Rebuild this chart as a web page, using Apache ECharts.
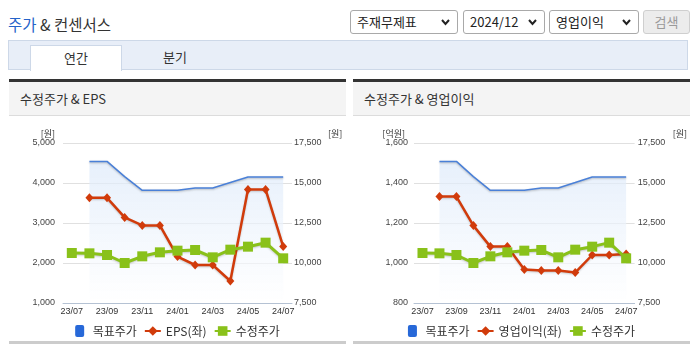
<!DOCTYPE html>
<html><head><meta charset="utf-8">
<script src="https://cdn.jsdelivr.net/npm/echarts@6/dist/echarts.min.js"></script>
<style>
body{margin:0;width:695px;height:349px;background:#fff;font-family:"Noto Sans CJK KR","Noto Sans",sans-serif;position:relative;overflow:hidden;color:#333}
.abs{position:absolute}
.sel{position:absolute;top:10px;height:22px;border:1px solid #a9a9a9;border-radius:3px;background:#fff;font-size:13px;line-height:22px;padding-left:6px;box-sizing:content-box;color:#222}
.sel svg{position:absolute;right:7px;top:8px}
.btn{position:absolute;top:10px;left:643px;width:45px;height:22px;border:1px solid #cfcfcf;border-radius:3px;background:#ececec;color:#9a9a9a;font-size:13px;line-height:22px;text-align:center}
.tabbar{position:absolute;left:8px;top:40px;width:678px;height:28px;background:#e8eef8;border:1px solid #cdd8e8}
.tab{position:absolute;top:45px;height:25px;font-size:13px;line-height:24px;text-align:center}
.panel{position:absolute;top:79px;width:337px;border-top:3px solid #333}
.phead{height:33px;background:#f4f4f4;border-bottom:1px solid #dcdcdc;font-size:13px;line-height:33px;padding-left:11px;color:#333}
.pbottom{position:absolute;top:341px;width:337px;height:3px;background:#cccccc}
.chart{position:absolute;top:118px;width:337px;height:222px}
</style></head><body>
<div class="abs" style="left:8px;top:13px;font-size:15.5px;line-height:22px;color:#333"><span style="color:#2563c9">주가</span> &amp; 컨센서스</div>
<div class="sel" style="left:350px;width:100px">주재무제표<svg width="9" height="7" viewBox="0 0 9 7"><path d="M1,1 L4.5,5 L8,1" stroke="#222" stroke-width="2" fill="none"/></svg></div>
<div class="sel" style="left:463px;width:74px">2024/12<svg width="9" height="7" viewBox="0 0 9 7"><path d="M1,1 L4.5,5 L8,1" stroke="#222" stroke-width="2" fill="none"/></svg></div>
<div class="sel" style="left:549px;width:82px">영업이익<svg width="9" height="7" viewBox="0 0 9 7"><path d="M1,1 L4.5,5 L8,1" stroke="#222" stroke-width="2" fill="none"/></svg></div>
<div class="btn">검색</div>
<div class="tabbar"></div>
<div class="tab" style="left:30px;width:90px;background:#fff;border:1px solid #cdd8e8;border-bottom:none">연간</div>
<div class="tab" style="left:145px;width:60px">분기</div>

<div class="panel" style="left:9px"><div class="phead">수정주가 &amp; EPS</div></div>
<div class="panel" style="left:353px"><div class="phead">수정주가 &amp; 영업이익</div></div>
<div class="pbottom" style="left:9px"></div>
<div class="pbottom" style="left:353px"></div>
<div id="c1" class="chart" style="left:9px"></div>
<div id="c2" class="chart" style="left:353px"></div>
<script>
const categories = ['23/07','23/08','23/09','23/10','23/11','23/12','24/01','24/02','24/03','24/04','24/05','24/06','24/07'];
const targetPrice = [null,16350,16350,15400,14540,14540,14540,14690,14690,15030,15375,15375,15375];
const eps = [null,3630,3630,3140,2940,2940,2160,1950,1950,1550,3840,3840,2410];
const opProfit = [null,1332,1332,1187,1082,1082,968,963,963,952,1040,1040,1045];
const adjPrice = [10625,10604,10500,10000,10417,10667,10771,10812,10354,10833,11021,11271,10292];
const leftTicks1 = [1000,2000,3000,4000,5000];
const leftTicks2 = [800,1000,1200,1400,1600];
const rightTicks = [7500,10000,12500,15000,17500];

const FONT = '"Liberation Sans", Arial, sans-serif';
const KFONT = '"Noto Sans CJK KR", sans-serif';
const fmt = v => v.toLocaleString('en-US');

function build(el, opt) {
  const chart = echarts.init(document.getElementById(el));
  const lt = opt.leftTicks;
  chart.setOption({
    animation: false,
    grid: {left: opt.gl, width: opt.gw, top: 25, height: 160},
    legend: {
      left: 'center', top: 202, itemWidth: 16, itemHeight: 12, itemGap: 7,
      textStyle: {fontSize: 12, color: '#333', fontFamily: KFONT},
      data: [{name: '목표주가', icon: 'path://M2,0H7A2,2,0,0,1,9,2V10A2,2,0,0,1,7,12H2A2,2,0,0,1,0,10V2A2,2,0,0,1,2,0Z'}, opt.name, '수정주가']
    },
    xAxis: {
      type: 'category', data: categories, boundaryGap: true,
      axisLine: {lineStyle: {color: '#b5c2d3'}},
      axisTick: {lineStyle: {color: '#b5c2d3'}, length: 4, interval: i => i === 0 || i % 2 === 1},
      axisLabel: {interval: 1, fontSize: 9, color: '#333', fontFamily: FONT, margin: 4}
    },
    yAxis: [{
      type: 'value', min: lt[0], max: lt[lt.length-1], interval: lt[1]-lt[0],
      name: opt.lname, nameGap: 5,
      nameTextStyle: {align: 'right', padding: [0, opt.lpad, 0, 0], fontSize: 9, color: '#333', fontFamily: KFONT},
      axisLine: {show: false}, axisTick: {show: false},
      axisLabel: {fontSize: 9, color: '#444', fontFamily: FONT, margin: opt.lm, formatter: fmt},
      splitLine: {lineStyle: {color: '#e0e0e0'}}
    }, {
      type: 'value', min: rightTicks[0], max: rightTicks[rightTicks.length-1], interval: 2500,
      name: '[원]', nameGap: 5,
      nameTextStyle: {align: 'left', padding: [0, 0, 0, opt.rpad], fontSize: 9, color: '#333', fontFamily: KFONT},
      axisLine: {show: false}, axisTick: {show: false},
      axisLabel: {fontSize: 9, color: '#444', fontFamily: FONT, margin: opt.rm, formatter: fmt},
      splitLine: {show: false}
    }],
    series: [{
      name: '목표주가', type: 'line', yAxisIndex: 1, data: targetPrice, symbol: 'none',
      color: '#2768d8',
      lineStyle: {color: '#4a80d8', width: 1.5, shadowColor: 'rgba(0,0,0,0.25)', shadowBlur: 2, shadowOffsetY: 1},
      areaStyle: {color: new echarts.graphic.LinearGradient(0, 0, 0, 1, [{offset: 0, color: '#dce9fa'}, {offset: 1, color: 'rgba(255,255,255,0.9)'}])}
    }, {
      name: opt.name, type: 'line', yAxisIndex: 0, data: opt.values, symbol: 'diamond', symbolSize: [8, 9],
      color: '#d13b0b', lineStyle: {width: 2.5, shadowColor: 'rgba(0,0,0,0.2)', shadowBlur: 2, shadowOffsetY: 1}
    }, {
      name: '수정주가', type: 'line', yAxisIndex: 1, data: adjPrice, symbol: 'rect', symbolSize: 10,
      color: '#89c11a', lineStyle: {width: 3, shadowColor: 'rgba(0,0,0,0.2)', shadowBlur: 2, shadowOffsetY: 1}
    }]
  });
}
build('c1', {gl: 54, gw: 229, leftTicks: leftTicks1, name: 'EPS(좌)', values: eps, lname: '[원]', lpad: 8, rpad: 36, lm: 8, rm: 2});
build('c2', {gl: 61, gw: 221, leftTicks: leftTicks2, name: '영업이익(좌)', values: opProfit, lname: '[억원]', lpad: 9, rpad: 38, lm: 6, rm: 3});
</script>
</body></html>
